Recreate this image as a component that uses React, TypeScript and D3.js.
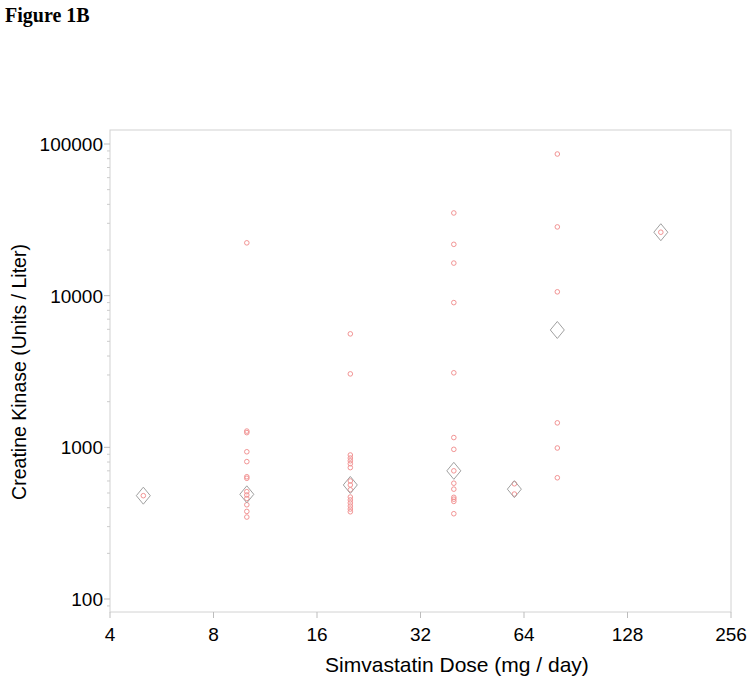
import React from "react";
import * as d3 from "d3";

// simvastatin dose groups (mg/day)
const doses = [5, 10, 20, 40, 60, 80, 160];

// individual creatine kinase values per dose group (U/L)
const ckDose5 = [480];
const ckDose10 = [22300, 1280, 1250, 935, 805, 640, 625, 510, 485, 460, 418, 378, 347];
const ckDose20 = [5600, 3050, 890, 850, 815, 780, 735, 600, 565, 525, 470, 450, 430, 410, 392, 376];
const ckDose40 = [35100, 21800, 16400, 9000, 3100, 1160, 970, 700, 580, 530, 468, 455, 440, 365];
const ckDose60 = [575, 492];
const ckDose80 = [85900, 28400, 10600, 1450, 990, 630];
const ckDose160 = [26200];

// group summary (diamonds)
const summaryCk = [480, 490, 565, 700, 530, 5940, 26200];

const xTicks = [4, 8, 16, 32, 64, 128, 256];
const yTicks = [100, 1000, 10000, 100000];

const width = 750;
const height = 683;
const left = 110;
const right = 731;
const top = 130;
const bottom = 612;

const font = "'Liberation Sans', Arial, sans-serif";

export default function App() {
  const x = d3.scaleLog().base(2).domain([4, 256]).range([left, right]);
  // 100 -> 599, 100000 -> 144
  const y = d3.scaleLog().domain([100, 100000]).range([599, 144]);

  const groups = [ckDose5, ckDose10, ckDose20, ckDose40, ckDose60, ckDose80, ckDose160];
  const points = groups.flatMap((vals, i) => vals.map(v => ({ dose: doses[i], ck: v })));

  const minorTicks: number[] = [];
  for (let d = 100; d <= 100000; d *= 10) {
    for (let m = 2; m <= 9; m++) {
      const v = d * m;
      if (y(v) >= top) minorTicks.push(v);
    }
  }
  const yLow = y.invert(bottom);
  for (let m = 2; m <= 9; m++) {
    if (m * 10 > yLow) minorTicks.push(m * 10);
  }

  const diamond = (cx: number, cy: number) =>
    `M${cx},${cy - 8.5}L${cx + 7},${cy}L${cx},${cy + 8.5}L${cx - 7},${cy}Z`;

  return (
    <svg width={width} height={height} style={{ display: "block", position: "absolute", left: 0, top: 0 }}>
      <rect width={width} height={height} fill="#fff" />
      <text x={5} y={22} fontFamily="'Liberation Serif', 'Times New Roman', serif" fontWeight="bold" fontSize={20}>
        Figure 1B
      </text>

      <rect x={left} y={top} width={right - left} height={bottom - top} fill="none" stroke="#d2d2d2" strokeWidth={1} />

      {/* y axis ticks */}
      {minorTicks.map(v => (
        <line key={"m" + v} x1={left - 3} x2={left} y1={y(v)} y2={y(v)} stroke="#cccccc" />
      ))}
      {yTicks.map(v => (
        <g key={"y" + v}>
          <line x1={left - 6} x2={left} y1={y(v)} y2={y(v)} stroke="#bdbdbd" />
          <text x={left - 7} y={y(v) + 7} textAnchor="end" fontFamily={font} fontSize={19}>
            {v}
          </text>
        </g>
      ))}

      {/* x axis ticks */}
      {xTicks.map(v => (
        <g key={"x" + v}>
          <line x1={x(v)} x2={x(v)} y1={bottom} y2={bottom + 6} stroke="#bdbdbd" />
          <text x={x(v)} y={bottom + 29} textAnchor="middle" fontFamily={font} fontSize={19}>
            {v}
          </text>
        </g>
      ))}

      <text x={457} y={672} textAnchor="middle" fontFamily={font} fontSize={21}>
        Simvastatin Dose (mg / day)
      </text>
      <text
        transform={`translate(26, 372) rotate(-90)`}
        textAnchor="middle"
        fontFamily={font}
        fontSize={19.5}
      >
        Creatine Kinase (Units / Liter)
      </text>

      {points.map((p, i) => (
        <circle key={"p" + i} cx={x(p.dose)} cy={y(p.ck)} r={2.3} fill="none" stroke="#f29494" strokeWidth={1} />
      ))}
      {doses.map((d, i) => (
        <path key={"d" + i} d={diamond(x(d), y(summaryCk[i]))} fill="none" stroke="#a0a0a0" strokeWidth={1} />
      ))}
    </svg>
  );
}
